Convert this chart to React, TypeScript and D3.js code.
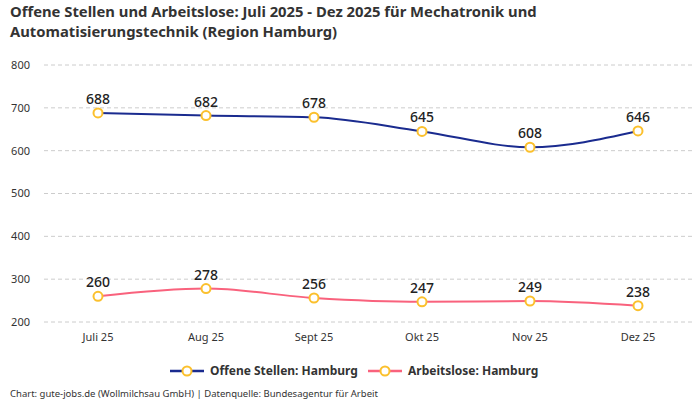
import * as d3 from 'd3';
import React, { useEffect, useRef } from 'react';

const months = ['Juli 25', 'Aug 25', 'Sept 25', 'Okt 25', 'Nov 25', 'Dez 25'];
const offeneStellen = [688, 682, 678, 645, 608, 646];
const arbeitslose = [260, 278, 256, 247, 249, 238];
const yTicks = [200, 300, 400, 500, 600, 700, 800];
const seriesNames = ['Offene Stellen: Hamburg', 'Arbeitslose: Hamburg'];
const seriesColors = ['#1a2b8f', '#f9627d'];

export default () => {
    const ref = useRef<any>();

    useEffect(() => {
        const width = 700;
        const height = 400;
        const margin = { top: 65, right: 8, bottom: 78, left: 44 };
        const font = 'Noto Sans, sans-serif';

        const svg = d3.select<any, any>(ref.current)
            .attr('width', width)
            .attr('height', height);
        svg.selectAll('*').remove();

        svg.append('rect').attr('width', width).attr('height', height).attr('fill', '#fff');

        // title, two lines
        const titleLines = [
            'Offene Stellen und Arbeitslose: Juli 2025 - Dez 2025 für Mechatronik und',
            'Automatisierungstechnik (Region Hamburg)',
        ];
        svg.append('g').selectAll('text').data(titleLines).join('text')
            .attr('x', 10)
            .attr('y', (d, i) => 17 + i * 20)
            .attr('font-family', font)
            .attr('font-weight', 700)
            .attr('font-size', 14.8)
            .attr('fill', '#333')
            .text((d) => d);

        const x = d3.scaleBand()
            .domain(months)
            .range([margin.left, width - margin.right]);
        const y = d3.scaleLinear()
            .domain([200, 800])
            .range([height - margin.bottom, margin.top]);

        // grid
        const grid = svg.append('g');
        grid.selectAll('line').data(yTicks).join('line')
            .attr('x1', margin.left)
            .attr('x2', width - margin.right)
            .attr('y1', (d) => y(d))
            .attr('y2', (d) => y(d))
            .attr('stroke', '#ccc')
            .attr('stroke-dasharray', '4,3');

        // y axis labels
        svg.append('g').selectAll('text').data(yTicks).join('text')
            .attr('x', 30)
            .attr('y', (d) => y(d))
            .attr('dy', '0.35em')
            .attr('text-anchor', 'end')
            .attr('font-family', font)
            .attr('font-size', 11)
            .attr('fill', '#333')
            .text((d) => d);

        // x axis labels
        svg.append('g').selectAll('text').data(months).join('text')
            .attr('x', (d) => x(d)! + x.bandwidth() / 2)
            .attr('y', y(200) + 19)
            .attr('text-anchor', 'middle')
            .attr('font-family', font)
            .attr('font-size', 11)
            .attr('fill', '#333')
            .text((d) => d);

        const line = d3.line<number>()
            .x((d, i) => x(months[i])! + x.bandwidth() / 2)
            .y((d) => y(d))
            .curve(d3.curveMonotoneX);

        [offeneStellen, arbeitslose].forEach((values, s) => {
            const g = svg.append('g');
            g.append('path')
                .datum(values)
                .attr('d', line)
                .attr('fill', 'none')
                .attr('stroke', seriesColors[s])
                .attr('stroke-width', 2);
            g.selectAll('circle').data(values).join('circle')
                .attr('cx', (d, i) => x(months[i])! + x.bandwidth() / 2)
                .attr('cy', (d) => y(d))
                .attr('r', 4.5)
                .attr('fill', '#fff')
                .attr('stroke', '#fbc02d')
                .attr('stroke-width', 2);
            g.selectAll('text').data(values).join('text')
                .attr('x', (d, i) => x(months[i])! + x.bandwidth() / 2)
                .attr('y', (d) => y(d) - 9)
                .attr('text-anchor', 'middle')
                .attr('font-family', font)
                .attr('font-weight', 500)
                .attr('font-size', 14)
                .attr('fill', '#222')
                .text((d) => d);
        });

        // legend
        const legendX = [170, 368];
        seriesNames.forEach((name, s) => {
            const lg = svg.append('g').attr('transform', `translate(${legendX[s]}, 371)`);
            lg.append('line')
                .attr('x1', 0).attr('x2', 34)
                .attr('stroke', seriesColors[s])
                .attr('stroke-width', 2.5);
            lg.append('circle')
                .attr('cx', 17).attr('r', 4.5)
                .attr('fill', '#fff')
                .attr('stroke', '#fbc02d')
                .attr('stroke-width', 2);
            lg.append('text')
                .attr('x', 40)
                .attr('dy', '0.35em')
                .attr('font-family', font)
                .attr('font-weight', 700)
                .attr('font-size', 12)
                .attr('fill', '#333')
                .text(name);
        });

        // footer
        svg.append('text')
            .attr('x', 10)
            .attr('y', 397)
            .attr('font-family', font)
            .attr('font-size', 9.5)
            .attr('fill', '#333')
            .text('Chart: gute-jobs.de (Wollmilchsau GmbH) | Datenquelle: Bundesagentur für Arbeit');
    }, []);

    return (
        <svg ref={ref} style={{ position: 'absolute', left: 0, top: 0 }}></svg>
    );
}
